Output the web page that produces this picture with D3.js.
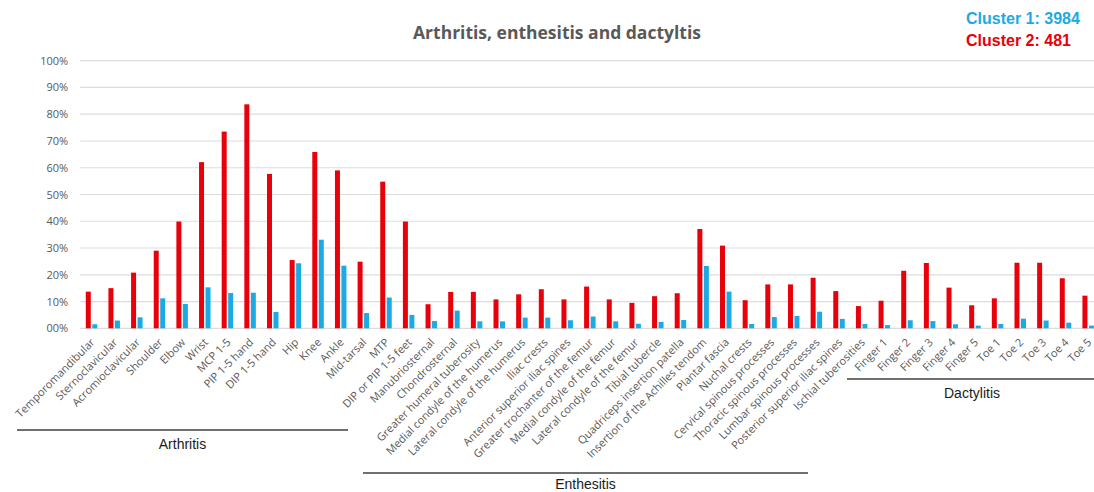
<!DOCTYPE html>
<html>
<head>
<meta charset="utf-8">
<script src="https://cdn.jsdelivr.net/npm/d3@7"></script>
<style>
  body { margin: 0; background: #fff; }
  svg { display: block; }
</style>
</head>
<body>
<div id="chart"></div>
<script>
const categories = [
  'Temporomandibular', 'Sternoclavicular', 'Acromioclavicular', 'Shoulder', 'Elbow', 'Wrist',
  'MCP 1-5', 'PIP 1-5 hand', 'DIP 1-5 hand', 'Hip', 'Knee', 'Ankle', 'Mid-tarsal', 'MTP',
  'DIP or PIP 1-5 feet', 'Manubriosternal', 'Chondrosternal', 'Greater humeral tuberosity',
  'Medial condyle of the humerus', 'Lateral condyle of the humerus', 'Iliac crests',
  'Anterior superior iliac spines', 'Greater trochanter of the femur', 'Medial condyle of the femur',
  'Lateral condyle of the femur', 'Tibial tubercle', 'Quadriceps insertion patella',
  'Insertion of the Achilles tendom', 'Plantar fascia', 'Nuchal crests', 'Cervical spinous processes',
  'Thoracic spinous processes', 'Lumbar spinous processes', 'Posterior superior iliac spines',
  'Ischial tuberosities', 'Finger 1', 'Finger 2', 'Finger 3', 'Finger 4', 'Finger 5',
  'Toe 1', 'Toe 2', 'Toe 3', 'Toe 4', 'Toe 5',
]
// percentages
const cluster2 = [
  13.7, 15, 20.8, 29, 39.9, 62.1, 73.5, 83.7, 57.7, 25.5, 65.9, 59, 24.9, 54.8,
  39.9, 9, 13.6, 13.6, 10.8, 12.7, 14.6, 10.8, 15.6, 10.8, 9.5, 12, 13.1,
  37.1, 30.9, 10.5, 16.4, 16.4, 18.9, 13.9, 8.3, 10.3, 21.5, 24.4, 15.2, 8.6,
  11.2, 24.5, 24.5, 18.7, 12.2,
]
const cluster1 = [
  1.5, 2.9, 4.1, 11.2, 9.1, 15.3, 13.2, 13.3, 6.1, 24.3, 33.1, 23.4, 5.7, 11.5,
  5, 2.7, 6.6, 2.6, 2.6, 4, 4, 3, 4.4, 2.6, 1.7, 2.4, 3.1,
  23.3, 13.7, 1.6, 4.2, 4.6, 6.2, 3.5, 1.6, 1.2, 3, 2.7, 1.5, 1,
  1.6, 3.6, 2.9, 2.1, 1,
]
const yTicks = [0, 10, 20, 30, 40, 50, 60, 70, 80, 90, 100]
const groups = [
  { name: 'Arthritis', first: 'Temporomandibular', last: 'DIP or PIP 1-5 feet' },
  { name: 'Enthesitis', first: 'Manubriosternal', last: 'Ischial tuberosities' },
  { name: 'Dactylitis', first: 'Finger 1', last: 'Toe 5' },
]
const seriesNames = ['Cluster 2', 'Cluster 1']
const colors = { 'Cluster 1': '#1caae2', 'Cluster 2': '#e8000b' }

const width = 1094
const height = 492
const plot = { left: 80.2, right: 1099.5, top: 60.7, bottom: 328.3 }

const svg = d3.select('#chart').append('svg').attr('width', width).attr('height', height)

const x = d3.scaleBand().domain(categories).range([plot.left, plot.right])
const x1 = d3.scaleBand().domain(seriesNames).range([0, x.bandwidth()])
  .paddingInner(0.23).paddingOuter(0.86)
const y = d3.scaleLinear().domain([0, 100]).range([plot.bottom, plot.top])

// gridlines
svg.append('g')
  .selectAll('line')
  .data(yTicks)
  .enter()
  .append('line')
  .attr('x1', plot.left)
  .attr('x2', plot.right)
  .attr('y1', (d) => y(d))
  .attr('y2', (d) => y(d))
  .attr('stroke', '#dcdcdc')
  .attr('stroke-width', 1.2)

// y axis labels
const yAxis = d3.axisLeft(y).tickValues(yTicks).tickSize(0).tickPadding(12)
  .tickFormat((d) => (d === 0 ? '00%' : d + '%'))
svg.append('g')
  .attr('transform', `translate(${plot.left},0)`)
  .call(yAxis)
  .call((g) => g.select('.domain').remove())
  .selectAll('text')
  .attr('fill', '#595959')
  .style('font-family', 'Open Sans, sans-serif')
  .style('font-size', '11px')

// bars
const rows = categories.map((c, i) => ({ cat: c, 'Cluster 2': cluster2[i], 'Cluster 1': cluster1[i] }))
svg.append('g')
  .selectAll('g')
  .data(rows)
  .enter()
  .append('g')
  .attr('transform', (d) => `translate(${x(d.cat)},0)`)
  .selectAll('rect')
  .data((d) => seriesNames.map((s) => ({ s, v: d[s] })))
  .enter()
  .append('rect')
  .attr('x', (d) => x1(d.s))
  .attr('width', x1.bandwidth())
  .attr('y', (d) => y(d.v))
  .attr('height', (d) => y(0) - y(d.v))
  .attr('fill', (d) => colors[d.s])

// category labels
svg.append('g')
  .selectAll('text')
  .data(categories)
  .enter()
  .append('text')
  .attr('transform', (d) => `translate(${x(d) + x.bandwidth() / 2 + 4},343) rotate(-45)`)
  .attr('text-anchor', 'end')
  .attr('fill', '#595959')
  .style('font-family', 'Open Sans, sans-serif')
  .style('font-size', '11px')
  .text((d) => d)

// group brackets
const groupLayout = {
  Arthritis: { x1: 17, x2: 348, ly: 430, ty: 449 },
  Enthesitis: { x1: 363, x2: 808, ly: 473, ty: 489 },
  Dactylitis: { x1: 847, x2: 1094, ly: 379, ty: 398 },
}
const gGroups = svg.append('g')
for (const grp of groups) {
  const L = groupLayout[grp.name]
  gGroups.append('line')
    .attr('x1', L.x1).attr('x2', L.x2)
    .attr('y1', L.ly).attr('y2', L.ly)
    .attr('stroke', '#404040').attr('stroke-width', 1.3)
  const cx = grp.name === 'Dactylitis' ? 972 : (L.x1 + L.x2) / 2
  gGroups.append('text')
    .attr('x', cx).attr('y', L.ty)
    .attr('text-anchor', 'middle')
    .attr('fill', '#1a1a1a')
    .style('font-family', 'Liberation Sans, Arial, sans-serif')
    .style('font-size', '14px')
    .text(grp.name)
}

// title
svg.append('text')
  .attr('x', 557).attr('y', 39)
  .attr('text-anchor', 'middle')
  .attr('fill', '#595959')
  .style('font-family', 'Open Sans, sans-serif')
  .style('font-size', '17.5px')
  .style('font-weight', 'bold')
  .text('Arthritis, enthesitis and dactyltis')

// cluster counts
svg.append('text')
  .attr('x', 966).attr('y', 24)
  .attr('fill', colors['Cluster 1'])
  .style('font-family', 'Liberation Sans, Arial, sans-serif')
  .style('font-size', '16px')
  .style('font-weight', 'bold')
  .text('Cluster 1: 3984')
svg.append('text')
  .attr('x', 966).attr('y', 46)
  .attr('fill', colors['Cluster 2'])
  .style('font-family', 'Liberation Sans, Arial, sans-serif')
  .style('font-size', '16px')
  .style('font-weight', 'bold')
  .text('Cluster 2: 481')
</script>
</body>
</html>
